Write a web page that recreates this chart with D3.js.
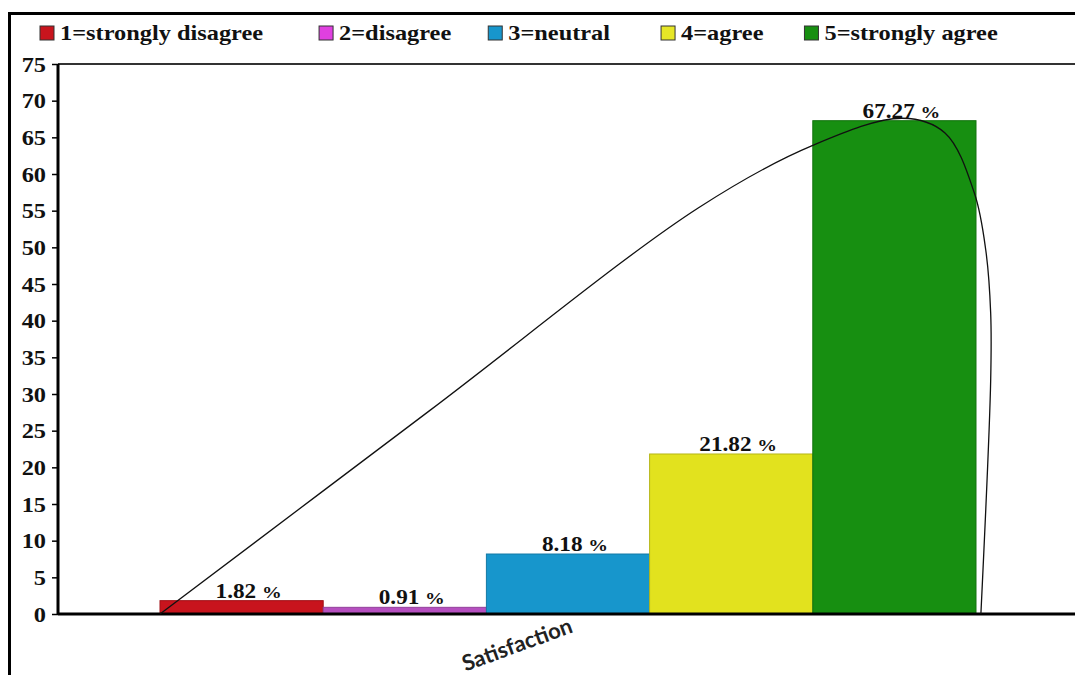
<!DOCTYPE html>
<html>
<head>
<meta charset="utf-8">
<script src="https://cdn.jsdelivr.net/npm/d3@7"></script>
<style>
  html, body { margin: 0; padding: 0; background: #fff; }
  svg { display: block; }
</style>
</head>
<body>
<svg id="chart" width="1075" height="675"></svg>
<script>
// Survey responses for the single "Satisfaction" question
const categories = ["Satisfaction"];
const series = ["1=strongly disagree", "2=disagree", "3=neutral", "4=agree", "5=strongly agree"];
const values = [1.82, 0.91, 8.18, 21.82, 67.27];
const colors = ["#c8141d", "#b54fbf", "#1796cc", "#e2e21e", "#178f11"];
const legendColors = ["#c8141d", "#e040e0", "#1796cc", "#e6e626", "#178f11"];
const yTicks = [0, 5, 10, 15, 20, 25, 30, 35, 40, 45, 50, 55, 60, 65, 70, 75];

// Hand-drawn trend curve: x in bar-width units across the group, y in percent
const trendU = [0, 1.65, 3.30, 4.00, 4.55, 4.81, 4.99, 5.06, 5.09, 5.09, 5.03];
const trendV = [0, 27.7, 55.4, 63.9, 67.6, 65.6, 57.4, 49.6, 41.0, 31.9, 0];

const svg = d3.select("#chart");
const plot = { left: 58, right: 1078, top: 64, bottom: 614 };
const serif = "'Liberation Serif', 'Times New Roman', serif";
const stretch = 1.16; // wide bold serif lettering

// outer frame
svg.append("rect")
  .attr("x", 9.5).attr("y", 13.5)
  .attr("width", 1080).attr("height", 700)
  .attr("fill", "none").attr("stroke", "#000").attr("stroke-width", 3);

const x0 = d3.scaleBand().domain(categories)
  .range([plot.left, plot.right]).paddingInner(0).paddingOuter(0.125);
const x1 = d3.scaleBand().domain(series).range([0, x0.bandwidth()]).padding(0);
const y = d3.scaleLinear().domain([0, 75]).range([plot.bottom, plot.top]);

// top boundary of the plot area
svg.append("line")
  .attr("x1", plot.left).attr("x2", plot.right + 10)
  .attr("y1", y(75)).attr("y2", y(75))
  .attr("stroke", "#333").attr("stroke-width", 2);

// bars
const g = svg.append("g");
const bars = series.map((s, i) => ({ s, v: values[i], c: colors[i], cat: categories[0] }));
g.selectAll("rect.bar").data(bars).join("rect")
  .attr("class", "bar")
  .attr("x", d => x0(d.cat) + x1(d.s))
  .attr("y", d => y(d.v))
  .attr("width", x1.bandwidth())
  .attr("height", d => y(0) - y(d.v))
  .attr("fill", d => d.c)
  .attr("stroke", d => d3.color(d.c).darker(0.6))
  .attr("stroke-width", 1);

// value labels
g.selectAll("text.lbl").data(bars).join("text")
  .attr("class", "lbl")
  .attr("transform", d =>
    `translate(${x0(d.cat) + x1(d.s) + x1.bandwidth() / 2 + 7},${y(d.v) - 3}) scale(${stretch},1)`)
  .attr("text-anchor", "middle")
  .attr("font-family", serif).attr("font-weight", "bold")
  .attr("font-size", 20).attr("fill", "#111")
  .each(function(d) {
    const t = d3.select(this);
    t.append("tspan").text(d.v.toFixed(2) + " ");
    t.append("tspan").attr("font-size", 17).text("%");
  });

// axes
const yAxis = d3.axisLeft(y).tickValues(yTicks).tickSize(6).tickPadding(6);
const ya = svg.append("g").attr("transform", `translate(${plot.left},0)`).call(yAxis);
ya.select(".domain").attr("stroke", "#000").attr("stroke-width", 3)
  .attr("d", `M0,${plot.top}V${plot.bottom + 1}`);
ya.selectAll(".tick line").attr("stroke", "#000").attr("stroke-width", 1.5);
ya.selectAll(".tick text")
  .attr("x", 0)
  .attr("transform", `translate(-12,0) scale(${stretch},1)`)
  .attr("font-family", serif).attr("font-weight", "bold")
  .attr("font-size", 21).attr("fill", "#111").attr("dy", "0.34em");

const xAxis = d3.axisBottom(x0).tickSize(0).tickFormat(() => "");
const xa = svg.append("g").attr("transform", `translate(0,${plot.bottom})`).call(xAxis);
xa.select(".domain").attr("stroke", "#000").attr("stroke-width", 3)
  .attr("d", `M${plot.left},0H${plot.right + 10}`);

// rotated category label under the group
svg.selectAll("text.cat").data(categories).join("text")
  .attr("class", "cat")
  .attr("transform", d =>
    `translate(${x0(d) + x0.bandwidth() / 2 + 6},${plot.bottom + 18}) rotate(-20)`)
  .attr("text-anchor", "end")
  .attr("font-family", "Lato, 'Open Sans', sans-serif")
  .attr("font-weight", "bold").attr("font-size", 22).attr("fill", "#222")
  .text(d => d);

// trend curve
const u = d3.scaleLinear().domain([0, series.length])
  .range([x0(categories[0]), x0(categories[0]) + x0.bandwidth()]);
const pts = trendU.map((uu, i) => [u(uu), y(trendV[i])]);
svg.append("path")
  .attr("d", d3.line().curve(d3.curveCatmullRom.alpha(0.5))(pts))
  .attr("fill", "none").attr("stroke", "#111").attr("stroke-width", 1.3);

// legend
const legend = svg.append("g").attr("transform", "translate(40,33)");
let lx = 0;
const gaps = [56, 37, 51, 41];
series.forEach((s, i) => {
  const item = legend.append("g").attr("transform", `translate(${lx},0)`);
  item.append("rect").attr("x", 0).attr("y", -7).attr("width", 14).attr("height", 14)
    .attr("fill", legendColors[i]).attr("stroke", "#333").attr("stroke-width", 1);
  const t = item.append("text")
    .attr("transform", `translate(20,7) scale(${stretch},1)`)
    .attr("font-family", serif).attr("font-weight", "bold")
    .attr("font-size", 21).attr("fill", "#111").text(s);
  lx += 20 + t.node().getComputedTextLength() * stretch + (gaps[i] || 0);
});
</script>
</body>
</html>
